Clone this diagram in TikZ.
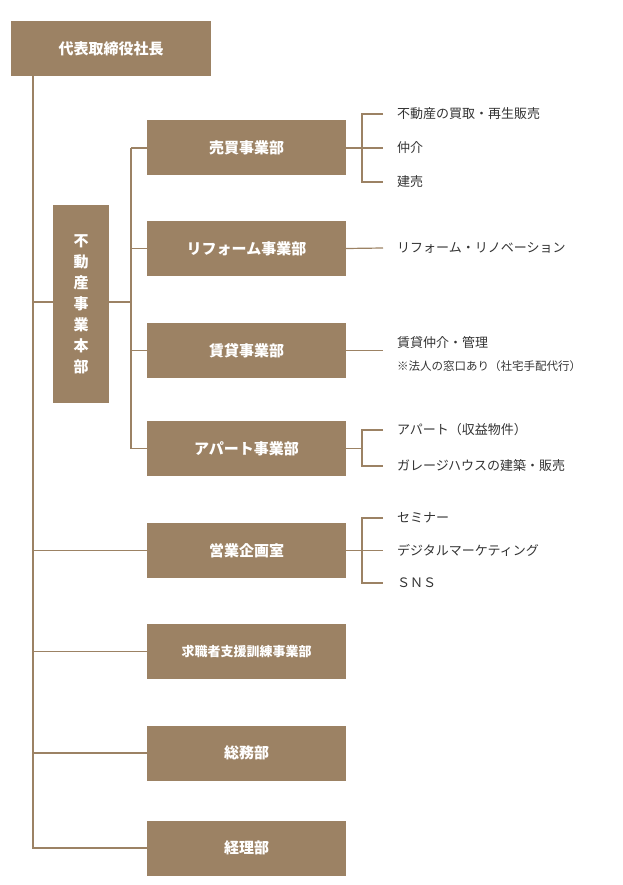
\documentclass[tikz,border=0pt]{standalone}
\usepackage{fontspec}
\setmainfont{Noto Sans CJK JP}
\usetikzlibrary{positioning}
\definecolor{brownbox}{HTML}{9C8264}
\definecolor{inktext}{HTML}{333333}
\tikzset{
  dept/.style={fill=brownbox,text=white,font=\fontsize{15}{17}\selectfont\bfseries,
    minimum width=199pt,minimum height=55pt,inner sep=0pt},
  task/.style={text=inktext,font=\fontsize{13}{15}\selectfont,anchor=west,inner sep=0pt},
  link/.style={draw=brownbox,line width=1.2pt}
}
\begin{document}
\begin{tikzpicture}[x=1pt,y=-1pt]
\useasboundingbox (0,0) rectangle (622,885);
% top and head office
\node[dept,minimum width=200pt] (ceo) at (111,48.5) {代表取締役社長};
\node[dept,minimum width=56pt,minimum height=198pt,align=center,font=\fontsize{15}{21}\selectfont\bfseries] (hq) at (81,304) {不\\動\\産\\事\\業\\本\\部};
% departments
\node[dept] (sale) at (246.5,148) {売買事業部};
\node[dept] (reform) at (246.5,248.5) {リフォーム事業部};
\node[dept] (rent) at (246.5,350.5) {賃貸事業部};
\node[dept] (apart) at (246.5,448.5) {アパート事業部};
\node[dept] (plan) at (246.5,550.5) {営業企画室};
\node[dept,font=\fontsize{13}{15}\selectfont\bfseries] (job) at (246.5,651.5) {求職者支援訓練事業部};
\node[dept] (gen) at (246.5,753) {総務部};
\node[dept] (acc) at (246.5,848) {経理部};
% tasks
\node[task] (t1) at (397,114) {不動産の買取・再生販売};
\node[task] (t2) at (397,148) {仲介};
\node[task] (t3) at (397,182) {建売};
\node[task] (t4) at (397,248) {リフォーム・リノベーション};
\node[task] (t5) at (397,343) {賃貸仲介・管理};
\node[task,font=\fontsize{11.5}{13}\selectfont] (t6) at (397,366) {※法人の窓口あり（社宅手配代行）};
\node[task] (t7) at (397,430) {アパート（収益物件）};
\node[task] (t8) at (397,466) {ガレージハウスの建築・販売};
\node[task] (t9) at (397,518) {セミナー};
\node[task] (t10) at (397,550) {デジタルマーケティング};
\node[task] (t11) at (397,583) {ＳＮＳ};
% tree
\coordinate (spine) at (33,848);
\draw[link] (33,76) -- (spine) -- (acc.west);
\foreach \n in {plan,job,gen} \draw[link] (33,0 |- \n.west) -- (\n.west);
\draw[link] (33,302) -- (hq.west |- 0,302);
\draw[link] (hq.east |- 0,302) -- (131,302);
\draw[link] (131,148) -- (131,449);
\foreach \n in {sale,reform,rent,apart} \draw[link] (131,0 |- \n.west) -- (\n.west);
% branches
\draw[link] (sale.east) -- (362,148);
\draw[link] (383,114) -| (362,182) -- (383,182);
\draw[link] (362,148) -- (383,148);
\draw[link] (reform.east) -- (383,248);
\draw[link] (rent.east) -- (383,350.5);
\draw[link] (apart.east) -- (362,448.5);
\draw[link] (383,430) -| (362,466) -- (383,466);
\draw[link] (plan.east) -- (383,550.5);
\draw[link] (383,518) -| (362,583) -- (383,583);
\end{tikzpicture}
\end{document}
